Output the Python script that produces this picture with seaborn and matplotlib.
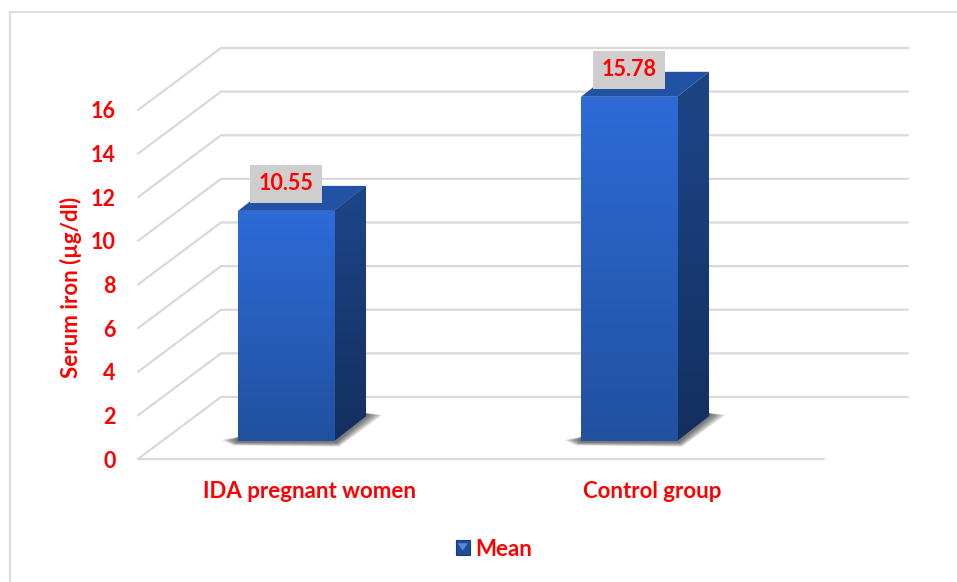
import numpy as np
import pandas as pd
import matplotlib
matplotlib.use("Agg")
import matplotlib.pyplot as plt
import seaborn as sns
from matplotlib.colors import LinearSegmentedColormap
from matplotlib.legend_handler import HandlerPatch
from matplotlib.lines import Line2D
from matplotlib.patches import Patch, Polygon, Rectangle

groups = ["IDA pregnant women", "Control group"]
means = [10.55, 15.78]
y_ticks = [0, 2, 4, 6, 8, 10, 12, 14, 16]
y_title = "Serum iron (µg/dl)"
series_name = "Mean"

RED = "#FF0000"
GRID = "#D9D9D9"
W, H = 957, 582

sns.set_theme(style="white")
plt.rcParams["font.family"] = ["Lato", "DejaVu Sans"]
plt.rcParams["font.weight"] = "bold"

fig = plt.figure(figsize=(W / 100, H / 100), dpi=100)
# Front edge of the floor: x 138..824, value 0 at y 459, value 16 at y 110 (pixels).
ax = fig.add_axes([138 / W, 1 - 459 / H, 686 / W, 349 / H])
ax.patch.set_alpha(0)

df = pd.DataFrame({"group": groups, "mean": means})
sns.barplot(data=df, x="group", y="mean", color="#2A5EBC", width=0.28,
            saturation=1, ax=ax, zorder=3)
ax.set_xlim(-0.5, 1.5)
ax.set_ylim(0, 16)

# Pixel to data conversion for the oblique depth of the chart.
sx = 2 / 686
sy = 16 / 349


def fade(top, bottom):
    return LinearSegmentedColormap.from_list("fade", [bottom, top])


def fill_gradient(clip, extent, top, bottom, zorder):
    grad = np.linspace(0, 1, 128).reshape(-1, 1)
    im = ax.imshow(grad, origin="lower", aspect="auto", extent=extent,
                   cmap=fade(top, bottom), zorder=zorder, interpolation="bilinear")
    im.set_clip_path(clip)
    return im


# Floor front edge, then side wall and back wall grid lines.
wall_dx, wall_dy = 83 * sx, 62 * sy
back_end = 1.5 + 84 * sx
for v in y_ticks:
    ax.plot([-0.5, -0.5 + wall_dx, back_end],
            [v, v + wall_dy, v + wall_dy],
            color=GRID, lw=1.6, clip_on=False, zorder=1, solid_joinstyle="miter")
ax.plot([-0.5, 1.5], [0, 0], color=GRID, lw=1.6, clip_on=False, zorder=1)

# Extrude each seaborn bar: lit front, darker side and top, soft floor shadow.
shift_x, shift_y = -23.5 * sx, 18 * sy
depth_x, depth_y = 32 * sx, 25 * sy
for bar, value in zip(list(ax.patches), means):
    x0 = bar.get_x() + shift_x
    x1 = x0 + bar.get_width()
    y0 = shift_y
    y1 = y0 + value
    bar.set_x(x0)
    bar.set_y(y0)
    bar.set_height(value)
    bar.set_edgecolor("none")

    # Layered translucent outlines build up a soft shadow around the base.
    for k in range(7):
        grow = (7 - k) * 2.2
        ax.add_patch(Polygon(
            [(x0 - (1 + grow) * sx, y0 + 1 * sy),
             (x0 - (grow * 0.3) * sx, y0 - (1 + grow * 0.22) * sy),
             (x1 + (2 + grow * 0.2) * sx, y0 - (1 + grow * 0.3) * sy),
             (x1 + depth_x + (1 + grow) * sx, y0 + depth_y + 1 * sy),
             (x1 + depth_x, y0 + depth_y + 3 * sy),
             (x1, y0 + 4 * sy),
             (x0, y0 + 4 * sy)],
            closed=True, facecolor="#202020", edgecolor="none", alpha=0.12,
            clip_on=False, zorder=2))

    side = Polygon([(x1, y0), (x1 + depth_x, y0 + depth_y),
                    (x1 + depth_x, y1 + depth_y), (x1, y1)],
                   closed=True, facecolor="#1B437F", edgecolor="none",
                   clip_on=False, zorder=3)
    ax.add_patch(side)
    fill_gradient(side, (x1, x1 + depth_x, y0, y1 + depth_y), "#1D4689", "#132F5E", 3.1)

    ax.add_patch(Polygon([(x0, y1), (x1, y1), (x1 + depth_x, y1 + depth_y),
                          (x0 + depth_x, y1 + depth_y)],
                         closed=True, facecolor="#2152A3", edgecolor="none",
                         clip_on=False, zorder=3.2))

    fill_gradient(bar, (x0, x1, y0, y1), "#2E6BD7", "#21509F", 3.3)

    # Value label on a grey plate above the bar.
    cx = (x0 + x1) / 2
    cy = y1 + 27 * sy
    ax.add_patch(Rectangle((cx - 36 * sx, cy - 19 * sy), 72 * sx, 38 * sy,
                           facecolor="#CFCDCD", edgecolor="none",
                           clip_on=False, zorder=4))
    ax.text(cx, cy, f"{value:.2f}", color=RED, fontsize=15.5, fontweight="bold",
            ha="center", va="center", zorder=5)

ax.set_xlim(-0.5, 1.5)
ax.set_ylim(0, 16)

ax.set_xlabel("")
ax.set_ylabel("")
ax.set_yticks(y_ticks)
ax.set_xticks(range(len(groups)))
ax.set_xticklabels(groups)
ax.tick_params(axis="x", length=0, pad=16, labelsize=16, labelcolor=RED)
ax.tick_params(axis="y", length=0, pad=16, labelsize=15.5, labelcolor=RED)
sns.despine(ax=ax, left=True, bottom=True)

fig.text(71 / W, 1 - 287 / H, y_title, color=RED, fontsize=16, fontweight="bold",
         rotation=90, ha="center", va="center")


class BevelSwatch(HandlerPatch):
    """Square legend key with the small highlight of the bar's bevel."""

    def create_artists(self, legend, orig, xd, yd, w, h, fontsize, trans):
        square = Rectangle((-xd, -yd), w, h, facecolor="#1F4C97",
                           edgecolor="#173B78", lw=0.8, transform=trans)
        wedge = Polygon([(-xd + w * 0.15, -yd + h * 0.8), (-xd + w * 0.85, -yd + h * 0.8),
                         (-xd + w * 0.5, -yd + h * 0.3)],
                        closed=True, facecolor="#4F86E0", edgecolor="none", transform=trans)
        return [square, wedge]


fig.legend(handles=[Patch(label=series_name)], handler_map={Patch: BevelSwatch()},
           loc="center", bbox_to_anchor=(494 / W, 1 - 549 / H), frameon=False,
           labelcolor=RED, handlelength=0.65, handleheight=0.65,
           handletextpad=0.25, borderpad=0, prop={"weight": "bold", "size": 16})

# Thin outer frame: only its top and left sides are present.
fig.add_artist(Line2D([9.5 / W, 9.5 / W], [1 - 12 / H, 0], color="#DEDEDE", lw=1.6))
fig.add_artist(Line2D([9.5 / W, 1], [1 - 12 / H, 1 - 12 / H], color="#DEDEDE", lw=1.6))

fig.savefig("out.png", dpi=100, facecolor="white")
